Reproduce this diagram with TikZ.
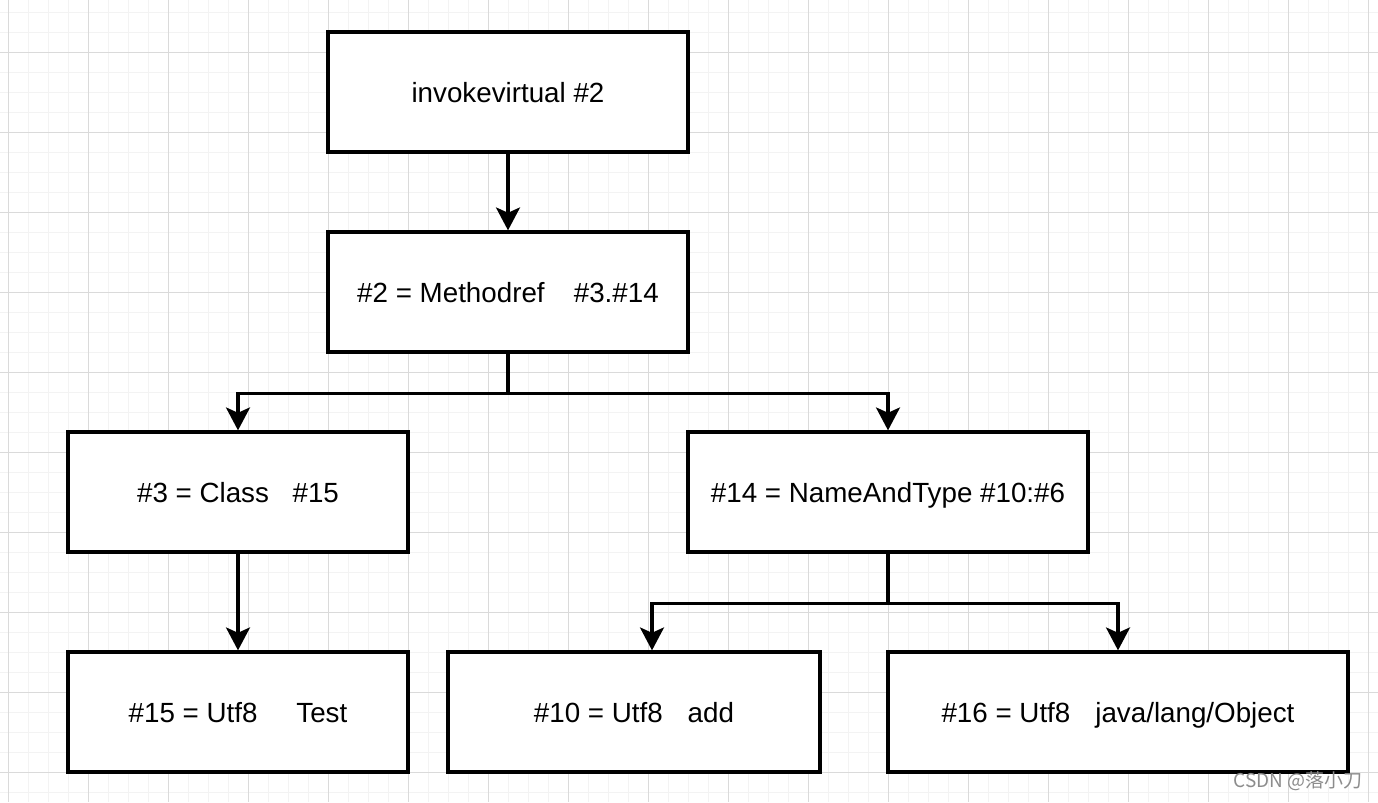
\documentclass[tikz,border=0pt]{standalone}
\usepackage{fontspec}
\setmainfont{Liberation Sans}
\newfontfamily\cjk{Noto Sans CJK SC}
\usetikzlibrary{arrows.meta, positioning}
\definecolor{gridminor}{HTML}{F3F3F3}
\definecolor{gridmajor}{HTML}{DADADA}
\definecolor{markgray}{HTML}{8C8C8C}

\begin{document}
\begin{tikzpicture}[x=0.02cm, y=-0.02cm,
	every node/.style={draw, line width=1.9pt, rectangle, minimum height=2.4cm, inner sep=0pt,
		text height=13pt, text depth=1.6pt, font=\fontsize{15.8pt}{19pt}\selectfont},
	arr/.style={-{Stealth[length=13pt, width=13.6pt, inset=3pt]}, line width=2pt}]
	\useasboundingbox (0,0) rectangle (1378,802);
	% grid
	\foreach \x in {8,28,...,1378} \draw[gridminor, line width=0.5pt] (\x,0) -- (\x,802);
	\foreach \y in {12,32,...,802} \draw[gridminor, line width=0.5pt] (0,\y) -- (1378,\y);
	\foreach \x in {8,88,...,1378} \draw[gridmajor, line width=0.5pt] (\x,0) -- (\x,802);
	\foreach \y in {52,132,...,802} \draw[gridmajor, line width=0.5pt] (0,\y) -- (1378,\y);
	
	\node[fill=white, minimum width=7.2cm] at (508,92) (invoke) {invokevirtual \#2};
	\node[fill=white, minimum width=7.2cm] at (508,292) (methodref) {\#2 = Methodref\hspace{1.05em}\#3.\#14};
	
	\node[fill=white, minimum width=6.8cm] at (238,492) (cls) {\#3 = Class\hspace{0.85em}\#15};
	\node[fill=white, minimum width=8cm] at (888,492) (nat) {\#14 = NameAndType \#10:\#6};
	
	\node[fill=white, minimum width=6.8cm] at (238,712) (utftest) {\#15 = Utf8\hspace{1.4em}Test};
	\node[fill=white, minimum width=7.44cm] at (634,712) (utfadd) {\#10 = Utf8\hspace{0.9em}add};
	\node[fill=white, minimum width=9.2cm] at (1118,712) (utfobj) {\#16 = Utf8\hspace{0.9em}java/lang/Object};
	
	\draw[arr] (invoke) -- (methodref);
	\draw[arr] (methodref.south) -- ++(0,40) -| (cls.north);
	\draw[arr] (methodref.south) -- ++(0,40) -| (nat.north);
	\draw[arr] (cls) -- (utftest);
	\draw[arr] (nat.south) -- ++(0,50) -| ([xshift=0.36cm]utfadd.north);
	\draw[arr] (nat.south) -- ++(0,50) -| (utfobj.north);
	
	\node[draw=none, minimum height=0pt, text height=, text depth=, text=markgray, font=\cjk\fontsize{10.8pt}{12pt}\selectfont] at (1298,781) (mark) {CSDN @落小刀};
\end{tikzpicture}
\end{document}
